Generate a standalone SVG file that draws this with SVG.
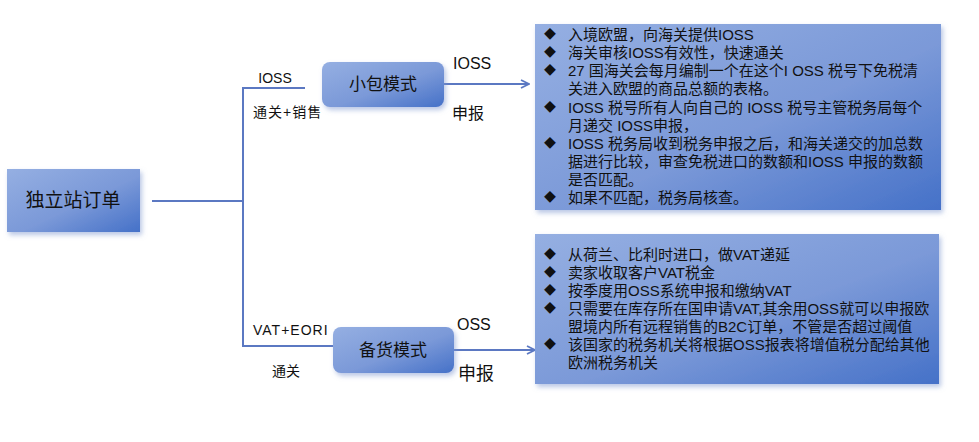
<svg xmlns="http://www.w3.org/2000/svg" width="979" height="442" viewBox="0 0 979 442">
<style>
  text { font-family: "Liberation Sans", "Noto Sans CJK SC", sans-serif; fill: #111; }
  .lbl { font-size: 14px; }
  .wide { letter-spacing: 1px; }
  .lbl2 { font-size: 16px; }
  .node { font-size: 17px; text-anchor: middle; dominant-baseline: central; }
  .box { fill: url(#grad); filter: url(#shadow); }
  .conn { stroke: #5b78c2; stroke-width: 2; fill: none; }
  .arrow { marker-end: url(#chev); }
  .body { font-size: 15px; }
  .bul { font-size: 12px; font-family: "Noto Sans CJK SC", sans-serif; }
</style>
<defs>
  <linearGradient id="grad" x1="0" y1="0" x2="1" y2="1">
    <stop offset="0" stop-color="#95afe2"/>
    <stop offset="0.55" stop-color="#7b99d8"/>
    <stop offset="1" stop-color="#4571c8"/>
  </linearGradient>
  <filter id="shadow" x="-10%" y="-10%" width="125%" height="130%">
    <feDropShadow dx="2" dy="3" stdDeviation="2.5" flood-color="#7f98d0" flood-opacity="0.55"/>
  </filter>
  <marker id="chev" viewBox="0 0 10 10" refX="9" refY="5" markerWidth="10" markerHeight="10" markerUnits="userSpaceOnUse" orient="auto">
    <path d="M1,1 L9,5 L1,9" fill="none" stroke="#5b78c2" stroke-width="1.8"/>
  </marker>
</defs>

<g id="connectors">
  <line class="conn" x1="152" y1="201" x2="243" y2="201"/>
  <line class="conn" x1="243" y1="87" x2="243" y2="347"/>
  <line class="conn" x1="242" y1="88" x2="305" y2="88"/>
  <line class="conn" x1="242" y1="346" x2="334" y2="346"/>
  <line class="conn arrow" x1="444" y1="84" x2="529" y2="84"/>
  <line class="conn arrow" x1="454" y1="350" x2="535" y2="350"/>
</g>

<g id="root">
  <rect class="box" x="7" y="169" width="133" height="63"/>
  <text class="node" x="73" y="200" style="font-size:19px">独立站订单</text>
</g>

<g id="small-parcel">
  <rect class="box" x="322" y="62" width="122" height="45" rx="8"/>
  <text class="node" x="383" y="84">小包模式</text>
</g>

<g id="stock">
  <rect class="box" x="333" y="327" width="121" height="46" rx="8"/>
  <text class="node" x="393" y="350">备货模式</text>
</g>

<g id="labels">
  <text class="lbl" x="275" y="83" text-anchor="middle">IOSS</text>
  <text class="lbl wide" x="253" y="117">通关+销售</text>
  <text class="lbl wide" x="253" y="335">VAT+EORI</text>
  <text class="lbl" x="272" y="376">通关</text>
  <text class="lbl2" x="453" y="69">IOSS</text>
  <text class="lbl2" x="452" y="119">申报</text>
  <text class="lbl2" x="457" y="330">OSS</text>
  <text class="lbl2" x="458" y="380" style="font-size:18px">申报</text>
</g>

<g id="ioss-box">
  <rect class="box" x="535" y="24" width="406" height="186"/>
  <g class="bul">
    <text x="544" y="39">◆</text>
    <text x="544" y="57">◆</text>
    <text x="544" y="75">◆</text>
    <text x="544" y="112">◆</text>
    <text x="544" y="148">◆</text>
    <text x="544" y="202">◆</text>
  </g>
  <g class="body">
    <text x="568" y="40">入境欧盟，向海关提供IOSS</text>
    <text x="568" y="58">海关审核IOSS有效性，快速通关</text>
    <text x="568" y="76">27 国海关会每月编制一个在这个I OSS 税号下免税清</text>
    <text x="568" y="94">关进入欧盟的商品总额的表格。</text>
    <text x="568" y="113">IOSS 税号所有人向自己的 IOSS 税号主管税务局每个</text>
    <text x="568" y="131">月递交 IOSS申报，</text>
    <text x="568" y="149">IOSS 税务局收到税务申报之后，和海关递交的加总数</text>
    <text x="568" y="167">据进行比较，审查免税进口的数额和IOSS 申报的数额</text>
    <text x="568" y="185">是否匹配。</text>
    <text x="568" y="203">如果不匹配，税务局核查。</text>
  </g>
</g>

<g id="oss-box">
  <rect class="box" x="535" y="234" width="404" height="150"/>
  <g class="bul">
    <text x="544" y="259">◆</text>
    <text x="544" y="277">◆</text>
    <text x="544" y="295">◆</text>
    <text x="544" y="313">◆</text>
    <text x="544" y="349">◆</text>
  </g>
  <g class="body">
    <text x="568" y="260">从荷兰、比利时进口，做VAT递延</text>
    <text x="568" y="278">卖家收取客户VAT税金</text>
    <text x="568" y="296">按季度用OSS系统申报和缴纳VAT</text>
    <text x="568" y="314">只需要在库存所在国申请VAT,其余用OSS就可以申报欧</text>
    <text x="568" y="332">盟境内所有远程销售的B2C订单，不管是否超过阈值</text>
    <text x="568" y="350">该国家的税务机关将根据OSS报表将增值税分配给其他</text>
    <text x="568" y="368">欧洲税务机关</text>
  </g>
</g>
</svg>
